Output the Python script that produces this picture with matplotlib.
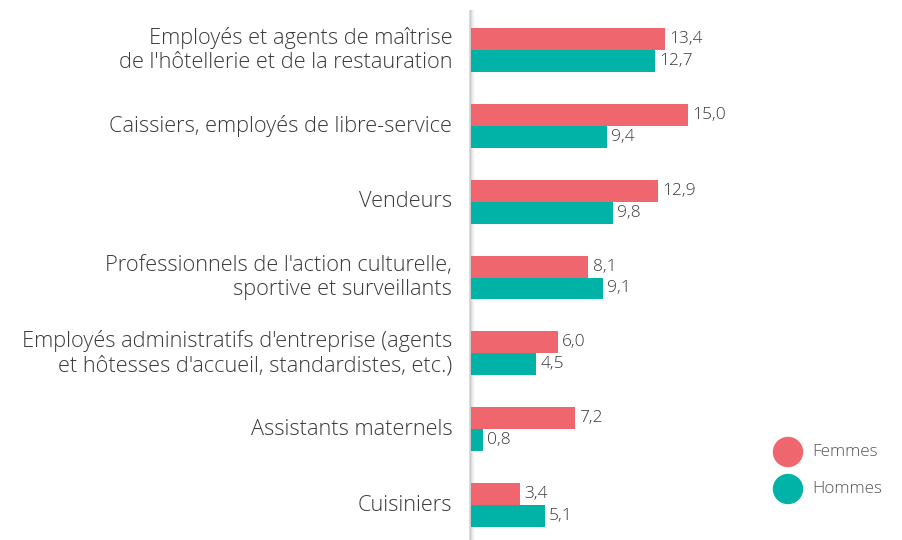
import numpy as np
import matplotlib.pyplot as plt
from matplotlib.patches import Ellipse

plt.rcParams["font.family"] = ["Open Sans", "DejaVu Sans"]

# Data
categories = [
    "Employés et agents de maîtrise\nde l'hôtellerie et de la restauration",
    "Caissiers, employés de libre-service",
    "Vendeurs",
    "Professionnels de l'action culturelle,\nsportive et surveillants",
    "Employés administratifs d'entreprise (agents\net hôtesses d'accueil, standardistes, etc.)",
    "Assistants maternels",
    "Cuisiniers",
]
femmes = [13.4, 15.0, 12.9, 8.1, 6.0, 7.2, 3.4]
hommes = [12.7, 9.4, 9.8, 9.1, 4.5, 0.8, 5.1]

c_f = "#f0666f"
c_h = "#00b3a6"
txt = "#3a3a3a"

fig = plt.figure(figsize=(9.03, 5.4), dpi=100)
ax = fig.add_axes([471 / 903, 0, 1 - 471 / 903, 1])

y = np.arange(len(categories))
h = 0.29
ax.barh(y - h / 2, femmes, height=h, color=c_f)
ax.barh(y + h / 2, hommes, height=h, color=c_h)

# Value labels (French decimal comma)
for yi, v in zip(y, femmes):
    ax.text(v + 0.3, yi - h / 2, f"{v:.1f}".replace(".", ","), va="center",
            ha="left", fontsize=12.5, color=txt, fontweight="light")
for yi, v in zip(y, hommes):
    ax.text(v + 0.3, yi + h / 2, f"{v:.1f}".replace(".", ","), va="center",
            ha="left", fontsize=12.5, color=txt, fontweight="light")

# Category labels
for yi, lab in zip(y, categories):
    ax.text(-1.3, yi, lab, ha="right", va="center", fontsize=15.7, color=txt,
            fontweight="light", linespacing=1.2, clip_on=False)

# scale: 0 at px 471, 15 at px 688
px_per_unit = 217 / 15
ax.set_xlim(0, (903 - 471) / px_per_unit)
# group centres at px 50 and 505 (from top)
step = (505 - 50) / 6
top = -50 / step
ax.set_ylim(top + 540 / step, top)
ax.axis("off")

# axis shadow
for i, a in enumerate([0.35, 0.22, 0.14, 0.08, 0.04]):
    ax.plot([i * 0.07 - 0.05] * 2, [top + 10 / step, top + 540 / step],
            color="#888888", alpha=a, lw=1.2, solid_capstyle="butt",
            zorder=0, clip_on=False)

# Legend
for yy, col, lab in [(452, c_f, "Femmes"), (489, c_h, "Hommes")]:
    fig.patches.append(Ellipse((788 / 903, 1 - yy / 540), 29 / 903, 29 / 540,
                               transform=fig.transFigure, color=col))
    fig.text(812 / 903, 1 - yy / 540, lab, va="center", ha="left",
             fontsize=12.3, color="#555555", fontweight="light")

fig.savefig("out.png", dpi=100)
